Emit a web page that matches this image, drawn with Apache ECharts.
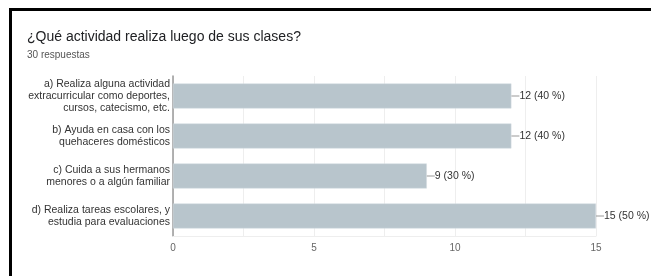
<!DOCTYPE html>
<html>
<head>
<meta charset="utf-8">
<script src="https://cdn.jsdelivr.net/npm/echarts@6/dist/echarts.min.js"></script>
<style>
  html, body { margin: 0; padding: 0; background: #fff; }
  #frame { position: absolute; left: 9px; top: 8px; right: 0; bottom: 0; border-top: 3px solid #000; border-left: 3px solid #000; }
  #main { position: absolute; left: 0; top: 0; width: 651px; height: 276px; }
</style>
</head>
<body>
<div id="frame"></div>
<div id="main"></div>
<script>
// categorias y respuestas
const categorias = [
  'a) Realiza alguna actividad\nextracurricular como deportes,\ncursos, catecismo, etc.',
  'b) Ayuda en casa con los\nquehaceres domésticos',
  'c) Cuida a sus hermanos\nmenores o a algún familiar',
  'd) Realiza tareas escolares, y\nestudia para evaluaciones'
]
const respuestas = [12, 12, 9, 15]
const totalRespuestas = 30
const ticksX = [0, 5, 10, 15]

let chart = echarts.init(document.getElementById('main'))
let option = {
  animation: false,
  title: {
    text: '¿Qué actividad realiza luego de sus clases?',
    subtext: totalRespuestas + ' respuestas',
    left: 22,
    top: 25,
    itemGap: 6,
    textStyle: { fontFamily: 'Liberation Sans', fontSize: 14, fontWeight: 'normal', color: '#202124' },
    subtextStyle: { fontFamily: 'Liberation Sans', fontSize: 10, color: '#555' }
  },
  grid: {
    left: 173,
    right: 55,
    top: 76,
    bottom: 40
  },
  xAxis: {
    type: 'value',
    min: 0,
    max: 15,
    interval: 2.5,
    axisLine: { show: true, lineStyle: { color: '#eeeeee' } },
    axisTick: { show: false },
    splitLine: { lineStyle: { color: '#eeeeee' } },
    axisLabel: {
      color: '#666',
      fontFamily: 'Liberation Sans',
      fontSize: 10,
      margin: 7,
      formatter: v => ticksX.indexOf(v) >= 0 ? String(v) : ''
    }
  },
  yAxis: {
    type: 'category',
    inverse: true,
    data: categorias,
    axisLine: { show: true, lineStyle: { color: '#999', width: 1.5 } },
    axisTick: { show: false },
    axisLabel: {
      color: '#333',
      fontFamily: 'Liberation Sans',
      fontSize: 10.5,
      lineHeight: 12,
      margin: 3,
      align: 'right'
    }
  },
  series: [
    {
      type: 'bar',
      data: respuestas,
      barWidth: 25,
      itemStyle: { color: '#b8c5cc', borderColor: '#d5dde1', borderWidth: 0.5 },
      label: {
        show: true,
        position: 'right',
        distance: 0,
        formatter: p => '{l|}' + p.value + ' (' + Math.round(p.value / totalRespuestas * 100) + ' %)',
        color: '#333',
        fontFamily: 'Liberation Sans',
        fontSize: 10.5,
        rich: {
          l: { width: 8, height: 1, backgroundColor: '#999', padding: 0 }
        }
      }
    }
  ]
}
chart.setOption(option)
</script>
</body>
</html>
